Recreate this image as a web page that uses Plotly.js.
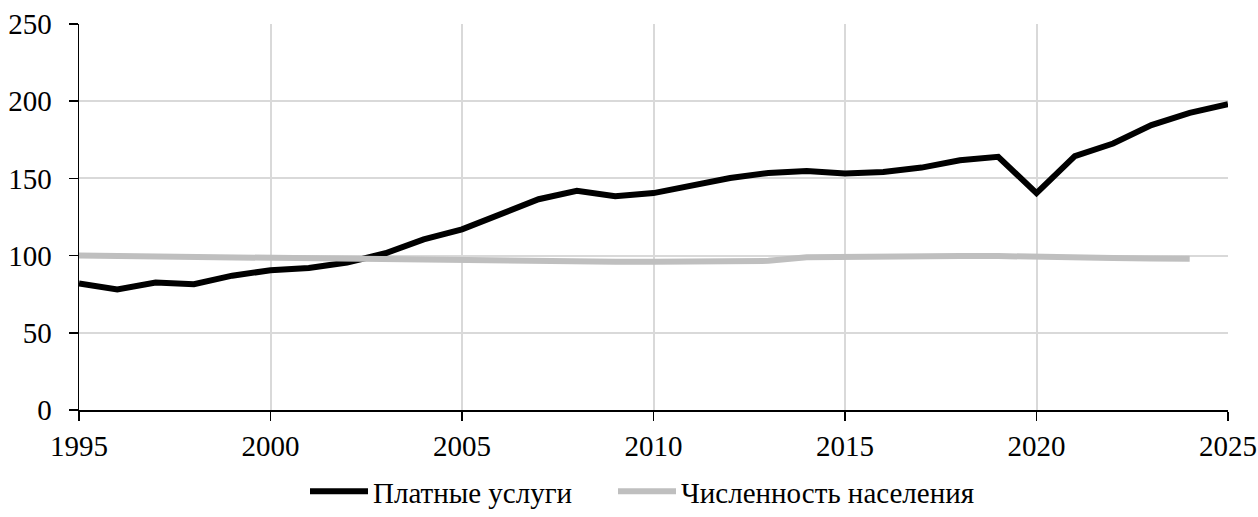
<!DOCTYPE html>
<html>
<head>
<meta charset="utf-8">
<script src="https://cdn.plot.ly/plotly-3.0.1.min.js"></script>
<style>html,body{margin:0;padding:0;background:#fff;}#chart{width:1258px;height:517px;}</style>
</head>
<body>
<div id="chart"></div>
<script>
const years = [1995,1996,1997,1998,1999,2000,2001,2002,2003,2004,2005,2006,2007,2008,2009,2010,2011,2012,2013,2014,2015,2016,2017,2018,2019,2020,2021,2022,2023,2024,2025];
const paidServices = [82,78,82.5,81.5,87,90.5,92,95.5,101.5,110.5,117,126.5,136.5,142,138.5,140.5,145,150.3,153.5,154.8,153.2,154.2,157,161.8,164,140.5,164.4,172.6,184.5,192.5,198];
const popYears = [1995,1996,1997,1998,1999,2000,2001,2002,2003,2004,2005,2006,2007,2008,2009,2010,2011,2012,2013,2014,2015,2016,2017,2018,2019,2020,2021,2022,2023,2024];
const population = [100,99.7,99.4,99.1,98.7,98.3,97.9,97.6,97.3,96.9,96.6,96.2,96.0,96.0,96.0,96.0,96.1,96.3,96.6,98.9,99.3,99.5,99.6,99.7,99.7,99.6,99.0,98.5,98.2,98.0];
const seriesNames = ['Платные услуги','Численность населения'];

const font = {family:'Liberation Serif, Times New Roman, serif', size:29, color:'#000'};

const traces = [
  {x:years, y:paidServices, name:seriesNames[0], type:'scatter', mode:'lines', line:{color:'#000000', width:6}, legend:'legend'},
  {x:popYears, y:population, name:seriesNames[1], type:'scatter', mode:'lines', line:{color:'#bfbfbf', width:6}, legend:'legend2'}
];

const legendBase = {orientation:'h', xref:'container', yref:'container', xanchor:'left', y:0, yanchor:'bottom', font:font, itemwidth:58, bgcolor:'rgba(0,0,0,0)', borderwidth:0};

const layout = {
  width:1258, height:517,
  margin:{l:79, r:30, t:24, b:107},
  paper_bgcolor:'#fff', plot_bgcolor:'#fff',
  font:font,
  showlegend:true,
  legend:Object.assign({}, legendBase, {x:305/1258}),
  legend2:Object.assign({}, legendBase, {x:613/1258}),
  xaxis:{range:[1995,2025], tick0:1995, dtick:5, showgrid:true, gridcolor:'#d9d9d9', gridwidth:2, zeroline:false,
    showline:true, linecolor:'#000', linewidth:1.5, ticks:'outside', ticklen:9, tickwidth:1.5, tickcolor:'#000', tickfont:font, ticklabelstandoff:1},
  yaxis:{range:[0,250], dtick:50, showgrid:true, gridcolor:'#d9d9d9', gridwidth:2, zeroline:false,
    showline:true, linecolor:'#000', linewidth:1.5, ticks:'outside', ticklen:9, tickwidth:1.5, tickcolor:'#000', tickfont:font, ticklabelstandoff:11}
};

Plotly.newPlot('chart', traces, layout, {displayModeBar:false, staticPlot:true});
</script>
</body>
</html>
